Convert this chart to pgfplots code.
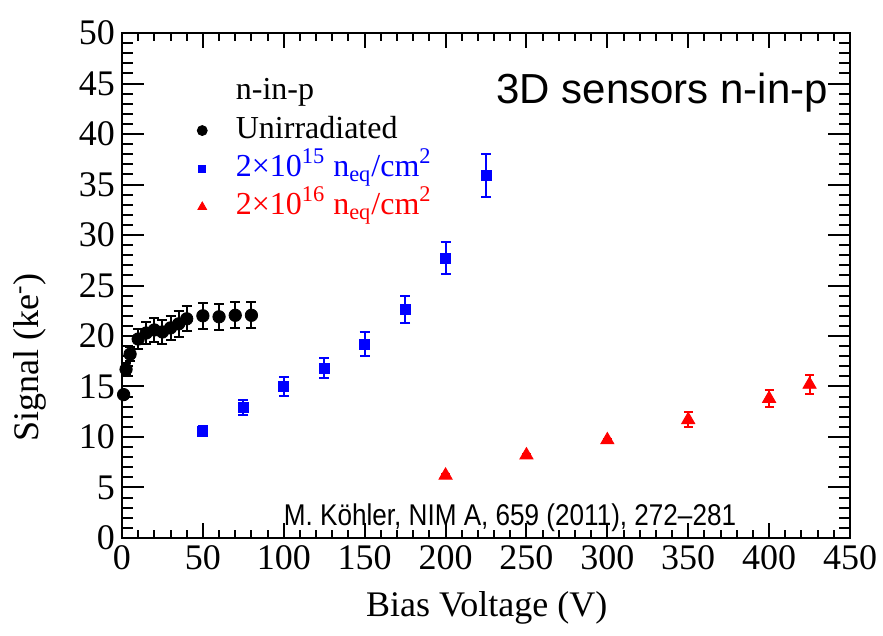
\documentclass[border=0pt]{standalone}
\usepackage{fontspec}
\setmainfont{Liberation Serif}
\newfontfamily\helv{Liberation Sans}
\usepackage{graphicx}
\usepackage{pgfplots}
\pgfplotsset{compat=1.18}
\usepackage{pgfplotstable}

% Signal vs bias voltage, 3D n-in-p sensors
\pgfplotstableread{
V    S     err
1    14.2  0.3
2.5  16.7  0.6
5    18.2  0.7
10   19.7  1.0
15   20.3  1.1
20   20.6  1.2
25   20.4  1.2
30   20.8  1.2
35   21.2  1.25
40   21.7  1.25
50   22.0  1.3
60   21.9  1.3
70   22.05 1.3
80   22.05 1.3
}\unirr

\pgfplotstableread{
V    S     err
50   10.6  0.5
75   12.9  0.75
100  15.0  0.9
125  16.8  1.0
150  19.2  1.2
175  22.6  1.35
200  27.7  1.6
225  35.9  2.1
}\fluenceA

\pgfplotstableread{
V    S     err
200  6.2   0.1
250  8.2   0.1
300  9.7   0.1
350  11.7  0.75
400  13.8  0.85
425  15.2  0.93
}\fluenceB

\begin{document}
\begin{tikzpicture}
\begin{axis}[
  at={(0,0)}, anchor=south west,
  scale only axis, width=364pt, height=252.5pt,
  xmin=0, xmax=450, ymin=0, ymax=50,
  xtick={0,50,...,450}, ytick={0,5,...,50},
  minor x tick num=4, minor y tick num=4,
  tick align=inside,
  xtick pos=both, ytick pos=both,
  xticklabel pos=lower, yticklabel pos=left,
  axis line style={line width=1pt},
  every tick/.style={black, line width=1pt},
  xtick style={/pgfplots/major tick length=7.5pt, /pgfplots/minor tick length=3.75pt},
  ytick style={/pgfplots/major tick length=11pt, /pgfplots/minor tick length=5.5pt},
  /pgf/number format/assume math mode=true,
  tick label style={font=\fontsize{18}{20}\selectfont},
  xlabel={Bias Voltage (V)},
  ylabel={Signal (ke\textsuperscript{-})},
  label style={font=\fontsize{18}{20}\selectfont},
  xlabel style={at={(axis description cs:0.501,-0.139)}, anchor=center},
  ylabel style={at={(axis description cs:-0.126,0.358)}, anchor=center},
  clip=false,
  legend style={draw=none, fill=none, at={(0.078,0.929)}, anchor=north west,
    font=\fontsize{16}{18}\selectfont,
    nodes={text height=11pt, text depth=3.5pt, inner sep=2.3pt},
    row sep=0pt,
    /tikz/every odd column/.style={column sep=12pt}},
  legend cell align=left,
]

\addplot[only marks, mark=*, black, mark size=3.1pt, forget plot,
  error bars/.cd, y dir=both, y explicit,
  error bar style={line width=1pt},
  error mark options={rotate=90, mark size=2.5pt, line width=1pt}]
  table[x=V, y=S, y error=err] {\unirr};

\addplot[only marks, mark=square*, blue, mark size=2.5pt, forget plot,
  error bars/.cd, y dir=both, y explicit,
  error bar style={line width=1pt},
  error mark options={rotate=90, mark size=2.5pt, line width=1pt}]
  table[x=V, y=S, y error=err] {\fluenceA};

\addplot[only marks, mark=triangle*, red, mark size=3.8pt, forget plot,
  error bars/.cd, y dir=both, y explicit,
  error bar style={line width=1pt},
  error mark options={rotate=90, mark size=2.2pt, line width=1pt}]
  table[x=V, y=S, y error=err] {\fluenceB};

\addlegendimage{empty legend}
\addlegendentry{n-in-p}
\addlegendimage{only marks, mark=*, black, mark size=2.5pt}
\addlegendentry{Unirradiated}
\addlegendimage{only marks, mark=square*, blue, mark size=1.8pt}
\addlegendentry{\textcolor{blue}{2×10\textsuperscript{15} n\textsubscript{eq}/cm\textsuperscript{2}}}
\addlegendimage{only marks, mark=triangle*, red, mark size=2.5pt}
\addlegendentry{\textcolor{red}{2×10\textsuperscript{16} n\textsubscript{eq}/cm\textsuperscript{2}}}

\node[font=\helv\fontsize{21}{24}\selectfont, anchor=center]
  at (rel axis cs:0.742,0.881) {3D sensors n-in-p};
\node[font=\helv\fontsize{15}{17}\selectfont, anchor=center]
  at (rel axis cs:0.533,0.040) {\scalebox{0.87}[1]{M. Köhler, NIM A, 659 (2011), 272–281}};
\end{axis}
\pgfresetboundingbox
\path (-61pt,-49pt) rectangle (380.5pt,269pt);
\end{tikzpicture}
\end{document}
